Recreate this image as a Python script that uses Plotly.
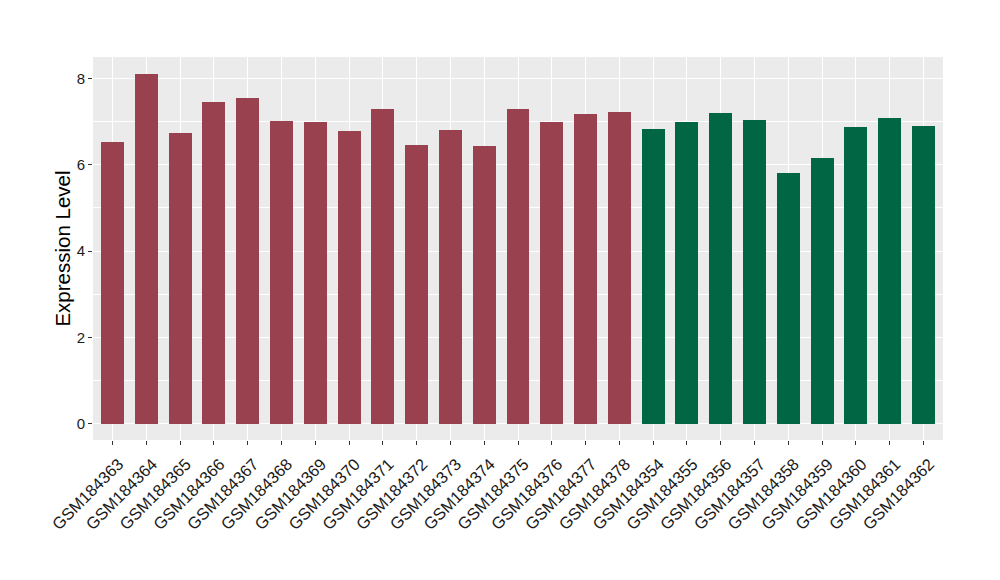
import plotly.graph_objects as go

samples = ["GSM184363","GSM184364","GSM184365","GSM184366","GSM184367","GSM184368","GSM184369",
           "GSM184370","GSM184371","GSM184372","GSM184373","GSM184374","GSM184375","GSM184376",
           "GSM184377","GSM184378","GSM184354","GSM184355","GSM184356","GSM184357","GSM184358",
           "GSM184359","GSM184360","GSM184361","GSM184362"]
values = [6.53, 8.11, 6.74, 7.46, 7.55, 7.02, 6.99, 6.78, 7.30, 6.46, 6.81, 6.44, 7.30, 6.99,
          7.18, 7.23, 6.83, 6.99, 7.20, 7.04, 5.81, 6.16, 6.88, 7.09, 6.90]
groups = ["A"] * 16 + ["B"] * 9
group_colors = {"A": "#9A4150", "B": "#006644"}

fig = go.Figure(go.Bar(
    x=samples, y=values,
    marker=dict(color=[group_colors[g] for g in groups], line=dict(width=0)),
    width=0.68,
    showlegend=False,
))

fig.update_layout(
    width=1000, height=580,
    margin=dict(l=85, r=65, t=49, b=148, autoexpand=False),
    paper_bgcolor="white", plot_bgcolor="#EBEBEB",
    font=dict(family="Liberation Sans, Arial, sans-serif", color="#1a1a1a"),
    bargap=0,
)
fig.update_xaxes(
    range=[-0.58, 24.58], tickangle=-45, tickfont=dict(size=16.5, color="#1a1a1a"),
    ticklabelshift=6, ticklabelstandoff=3,
    showgrid=True, gridcolor="white", gridwidth=1.2, automargin=False,
    ticks="outside", ticklen=4, tickcolor="#333333", zeroline=False,
)
fig.update_yaxes(
    range=[-0.38, 8.5], tickvals=[0, 2, 4, 6, 8], tickfont=dict(size=15, color="#1a1a1a"),
    showgrid=True, gridcolor="white", gridwidth=1.2, automargin=False,
    minor=dict(tickvals=[1, 3, 5, 7], showgrid=True, gridcolor="white", gridwidth=0.6),
    ticks="outside", ticklen=4, tickcolor="#333333", zeroline=False,
    title=dict(text="Expression Level", font=dict(size=20.5, color="black"), standoff=0),
)

fig.write_html("out.html")
